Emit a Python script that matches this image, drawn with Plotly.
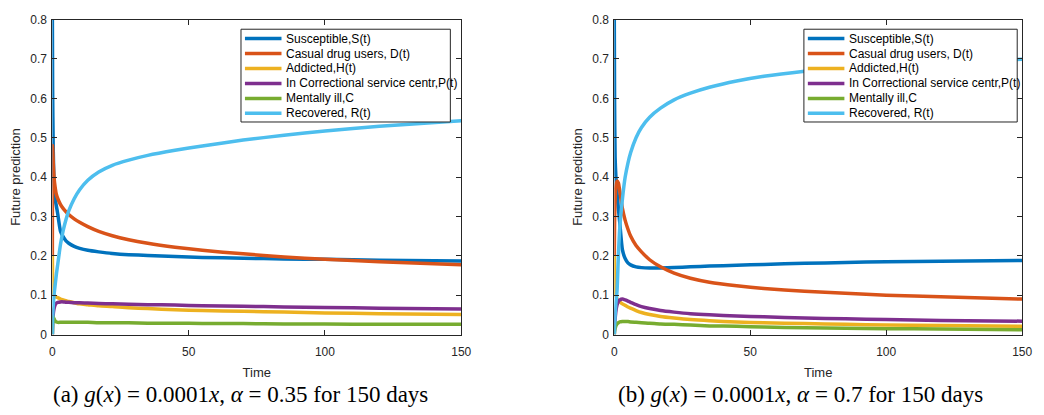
import plotly.graph_objects as go

# Time grid (days), dense near the start where the dynamics are fast
t = [0, 0.1, 0.3, 0.6, 1, 1.5, 2, 3, 4, 5, 6, 8, 10, 13, 17, 22, 28, 35, 45,
     55, 70, 85, 100, 120, 150]

# Panel (a): alpha = 0.35
S_a = [0.80, 0.62, 0.48, 0.39, 0.345, 0.325, 0.305, 0.262, 0.248, 0.238, 0.232,
       0.224, 0.219, 0.214, 0.210, 0.206, 0.203, 0.201, 0.198, 0.196, 0.194,
       0.192, 0.191, 0.189, 0.187]
D_a = [0.20, 0.48, 0.44, 0.40, 0.375, 0.355, 0.345, 0.330, 0.320, 0.312, 0.305,
       0.294, 0.285, 0.274, 0.262, 0.251, 0.241, 0.232, 0.222, 0.214, 0.205,
       0.197, 0.191, 0.185, 0.177]
H_a = [0.20, 0.14, 0.11, 0.10, 0.097, 0.095, 0.094, 0.090, 0.088, 0.086, 0.084,
       0.081, 0.078, 0.076, 0.073, 0.071, 0.068, 0.066, 0.063, 0.061, 0.059,
       0.057, 0.055, 0.053, 0.051]
P_a = [0.0, 0.03, 0.05, 0.065, 0.075, 0.080, 0.082, 0.083, 0.083, 0.082, 0.082,
       0.081, 0.081, 0.080, 0.079, 0.078, 0.077, 0.076, 0.075, 0.073, 0.072,
       0.070, 0.069, 0.067, 0.065]
C_a = [0.0, 0.02, 0.045, 0.040, 0.035, 0.032, 0.031, 0.031, 0.031, 0.031, 0.031,
       0.031, 0.031, 0.031, 0.030, 0.030, 0.030, 0.029, 0.029, 0.028, 0.028,
       0.027, 0.027, 0.026, 0.026]
R_a = [0.0, 0.04, 0.07, 0.10, 0.125, 0.155, 0.18, 0.230, 0.265, 0.292, 0.314,
       0.345, 0.368, 0.392, 0.413, 0.430, 0.443, 0.455, 0.468, 0.479, 0.494,
       0.506, 0.517, 0.529, 0.543]

# Panel (b): alpha = 0.7
S_b = [0.80, 0.60, 0.45, 0.40, 0.36, 0.32, 0.285, 0.215, 0.193, 0.182, 0.177,
       0.172, 0.170, 0.169, 0.169, 0.170, 0.172, 0.174, 0.176, 0.178, 0.181,
       0.183, 0.185, 0.186, 0.188]
D_b = [0.20, 0.28, 0.34, 0.375, 0.39, 0.385, 0.365, 0.320, 0.290, 0.268, 0.250,
       0.226, 0.210, 0.190, 0.172, 0.156, 0.143, 0.133, 0.124, 0.117, 0.110,
       0.105, 0.100, 0.096, 0.090]
H_b = [0.20, 0.15, 0.12, 0.10, 0.090, 0.085, 0.083, 0.078, 0.074, 0.070, 0.067,
       0.061, 0.056, 0.051, 0.046, 0.042, 0.038, 0.035, 0.032, 0.030, 0.028,
       0.026, 0.024, 0.023, 0.021]
P_b = [0.0, 0.02, 0.04, 0.06, 0.075, 0.084, 0.088, 0.090, 0.088, 0.085, 0.082,
       0.076, 0.071, 0.066, 0.061, 0.057, 0.053, 0.050, 0.047, 0.045, 0.042,
       0.040, 0.038, 0.036, 0.034]
C_b = [0.0, 0.008, 0.015, 0.022, 0.027, 0.030, 0.032, 0.033, 0.033, 0.033, 0.032,
       0.031, 0.030, 0.029, 0.027, 0.026, 0.024, 0.022, 0.021, 0.019, 0.017,
       0.016, 0.015, 0.014, 0.012]
R_b = [0.0, 0.02, 0.05, 0.08, 0.11, 0.20, 0.27, 0.345, 0.400, 0.435, 0.462,
       0.500, 0.526, 0.552, 0.575, 0.596, 0.613, 0.628, 0.644, 0.656, 0.669,
       0.679, 0.686, 0.693, 0.699]

names = ["Susceptible,S(t)", "Casual drug users, D(t)", "Addicted,H(t)",
         "In Correctional service centr,P(t)", "Mentally ill,C", "Recovered, R(t)"]
colors = ["#0072BD", "#D95319", "#EDB120", "#7E2F8E", "#77AC30", "#4DBEEE"]

W, H = 1044, 415


def px(x):
    return x / W


def py(y):
    return 1 - y / H


panels = [
    ("x", "y", [S_a, D_a, H_a, P_a, C_a, R_a]),
    ("x2", "y2", [S_b, D_b, H_b, P_b, C_b, R_b]),
]

fig = go.Figure()
for xa, ya, series in panels:
    for name, col, vals in zip(names, colors, series):
        fig.add_trace(go.Scatter(
            x=t, y=vals, mode="lines", name=name, xaxis=xa, yaxis=ya,
            showlegend=False,
            line=dict(color=col, width=3.5, shape="spline", smoothing=0.6)))

ink = "#262626"
sans = "Liberation Sans, Arial, sans-serif"
tickfont = dict(family=sans, size=12, color=ink)
axis_common = dict(showline=True, linecolor=ink, linewidth=1, mirror="ticks",
                   ticks="inside", ticklen=5, tickcolor=ink, showgrid=False,
                   zeroline=False, tickfont=tickfont)
title_font = dict(family=sans, size=13, color=ink)

dom_y = [py(339), py(13)]
dom_a = [px(50), px(464)]
dom_b = [px(619), px(1032)]
yticks = [0, 0.1, 0.2, 0.3, 0.4, 0.5, 0.6, 0.7, 0.8]
xticks = [0, 50, 100, 150]

fig.update_layout(
    width=W, height=H,
    margin=dict(l=0, r=0, t=0, b=0),
    paper_bgcolor="white", plot_bgcolor="white",
    showlegend=False,
    xaxis=dict(domain=dom_a, range=[0, 150], tickvals=xticks, anchor="y",
               ticklabelstandoff=6,
               title=dict(text="Time", font=title_font, standoff=9),
               **axis_common),
    yaxis=dict(domain=dom_y, range=[0, 0.8], tickvals=yticks, anchor="x",
               ticklabelstandoff=2,
               title=dict(text="Future prediction", font=title_font, standoff=6),
               **axis_common),
    xaxis2=dict(domain=dom_b, range=[0, 150], tickvals=xticks, anchor="y2",
                ticklabelstandoff=6,
                title=dict(text="Time", font=title_font, standoff=9),
                **axis_common),
    yaxis2=dict(domain=dom_y, range=[0, 0.8], tickvals=yticks, anchor="x2",
                ticklabelstandoff=2,
                title=dict(text="Future prediction", font=title_font, standoff=6),
                **axis_common),
)

# Boxed legends in the upper right of each panel
legend_boxes = [(241, 453), (811, 1027)]
box_top, box_bottom = 23, 119
row0, row_step = 32.7, 15.47
for left, right in legend_boxes:
    fig.add_shape(type="rect", xref="paper", yref="paper",
                  x0=px(left), x1=px(right), y0=py(box_bottom), y1=py(box_top),
                  line=dict(color=ink, width=1), fillcolor="white", layer="above")
    for i, (name, col) in enumerate(zip(names, colors)):
        yc = row0 + i * row_step
        fig.add_shape(type="line", xref="paper", yref="paper",
                      x0=px(left + 4), x1=px(left + 41), y0=py(yc), y1=py(yc),
                      line=dict(color=col, width=3.5), layer="above")
        fig.add_annotation(text=name, x=px(left + 44), y=py(yc), xref="paper",
                           yref="paper", xanchor="left", yanchor="middle",
                           showarrow=False,
                           font=dict(family=sans, size=12, color="#000000"))

cap_font = dict(family="Liberation Serif, DejaVu Serif, serif", size=23,
                color="#000000")
captions = [
    ("(a) <i>g</i>(<i>x</i>) = 0.0001<i>x</i>, <i>α</i> = 0.35 for 150 days", 240),
    ("(b) <i>g</i>(<i>x</i>) = 0.0001<i>x</i>, <i>α</i> = 0.7 for 150 days", 808),
]
for text, cx in captions:
    fig.add_annotation(text=text, x=px(cx), y=py(401), xref="paper",
                       yref="paper", xanchor="center", yanchor="middle",
                       showarrow=False, font=cap_font)

fig.write_html("out.html")
